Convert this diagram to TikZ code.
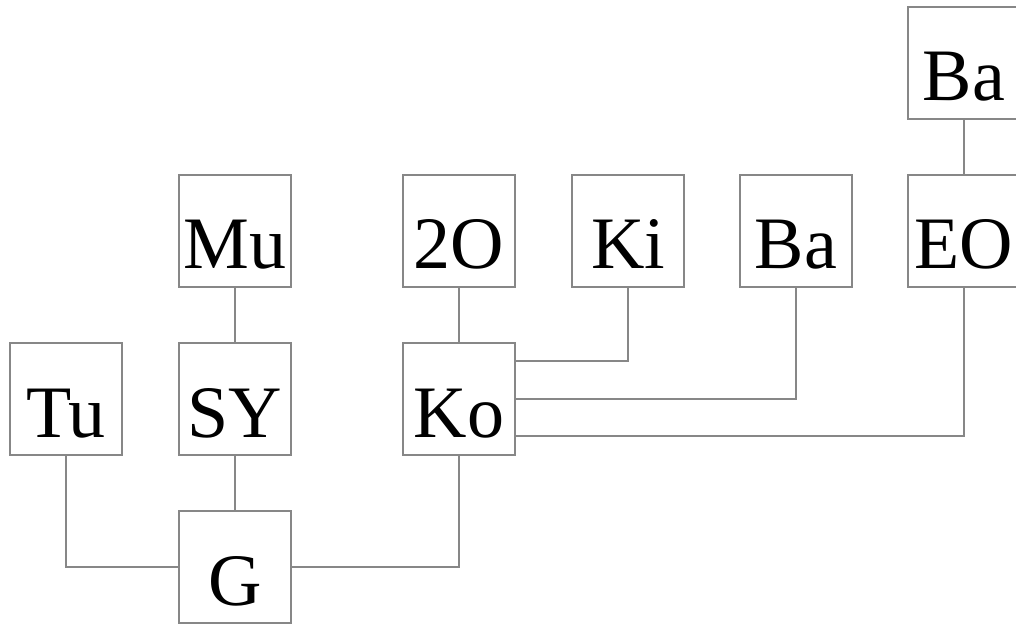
\documentclass[tikz,border=0pt]{standalone}
\usepackage{fontspec}
\setmainfont{Liberation Serif}
\usepackage{tikz}
\usetikzlibrary{positioning}
\definecolor{linegray}{RGB}{135,135,135}

\tikzset{
  block/.style={draw=linegray, line width=1.3pt, fill=white, inner sep=0pt,
    minimum width=112pt, minimum height=112pt, text height=94pt, text depth=18pt,
    font=\fontsize{74}{80}\selectfont},
  link/.style={draw=linegray, line width=1.3pt}
}

\begin{document}
\begin{tikzpicture}[x=1pt, y=1pt]
  \path[use as bounding box, clip] (0, 0) rectangle (1016, 624);

  % lower rows
  \node[block] (tu) at (66, 225) {Tu};
  \node[block] (sy) at (235, 225) {SY};
  \node[block] (g)  at (235, 57)  {G};
  \node[block] (ko) at (459, 225) {Ko};

  % upper row
  \node[block] (mu)  at (235, 393) {Mu};
  \node[block] (2o)  at (459, 393) {2O};
  \node[block] (ki)  at (628, 393) {Ki};
  \node[block] (ba)  at (796, 393) {Ba};
  \node[block] (eo)  at (964, 393) {EO};
  \node[block] (bat) at (964, 561) {Ba};

  \draw[link] (tu) |- (g);
  \draw[link] (sy) -- (g);
  \draw[link] (mu) -- (sy);
  \draw[link] (g) -| (ko);
  \draw[link] (2o) -- (ko);
  \draw[link] ([yshift=38pt]ko.east) -| (ki);
  \draw[link] (ko.east) -| (ba);
  \draw[link] ([yshift=-37pt]ko.east) -| (eo);
  \draw[link] (bat) -- (eo);
\end{tikzpicture}
\end{document}
